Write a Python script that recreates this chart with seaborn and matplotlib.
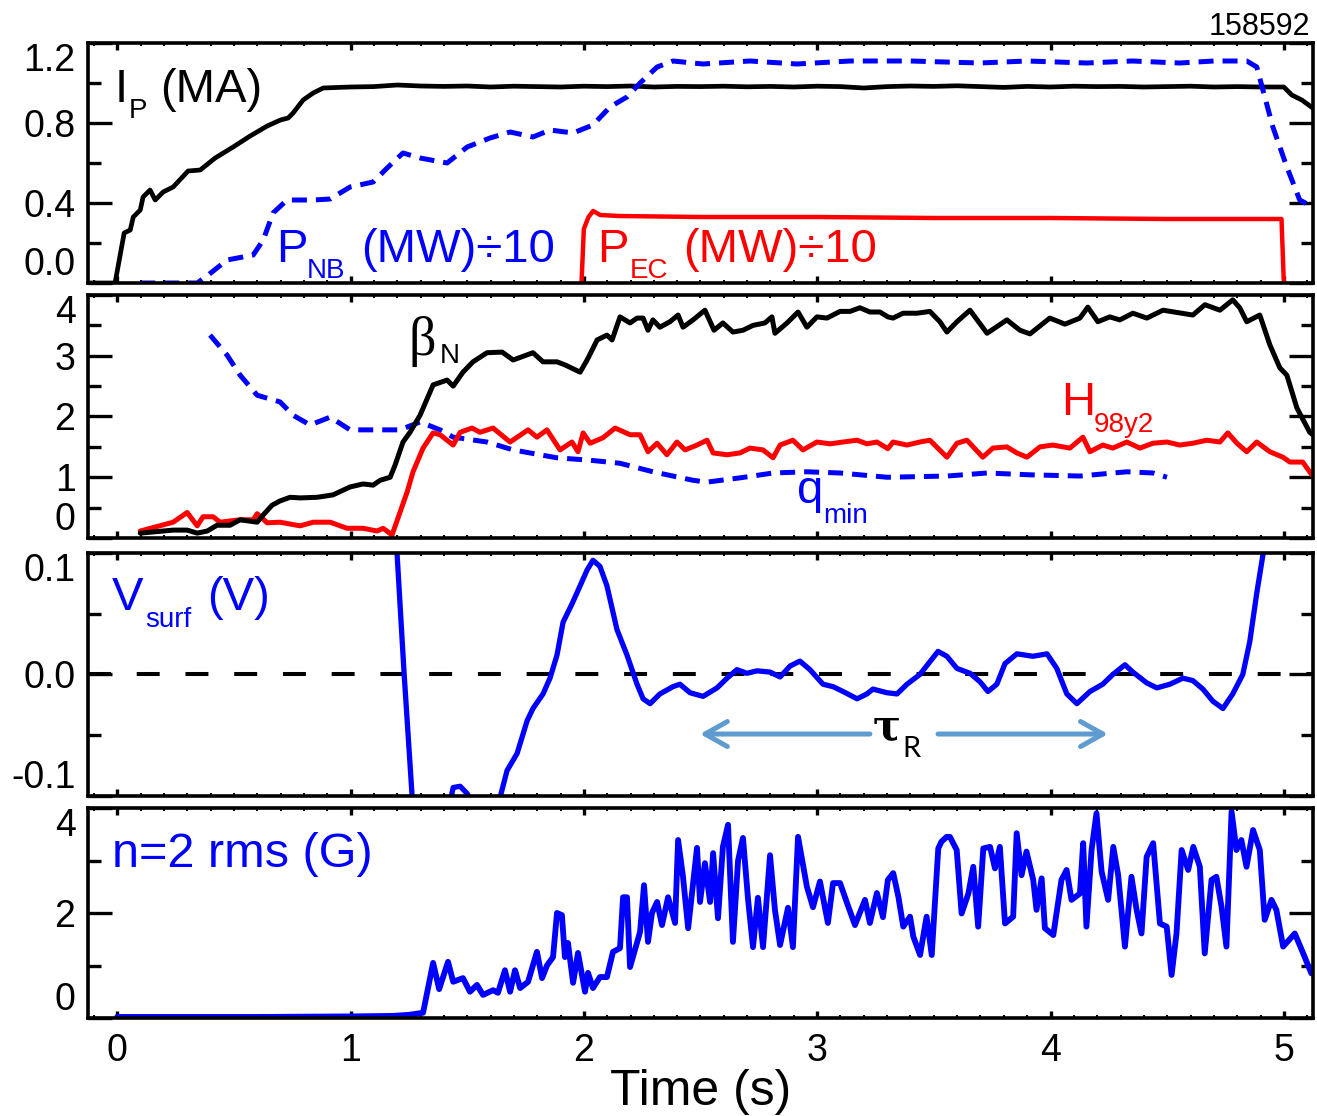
import matplotlib
matplotlib.use("Agg")
import matplotlib.pyplot as plt
from matplotlib.ticker import FixedLocator, MultipleLocator
import seaborn as sns

# ---------------- data (shot 158592) ----------------
# Plasma current (MA)
t_ip = [-0.124, -0.009, 0.030, 0.056, 0.069, 0.099, 0.111, 0.141, 0.163, 0.197, 0.240,
        0.304, 0.356, 0.420, 0.497, 0.570, 0.643, 0.700, 0.733, 0.754, 0.797, 0.840,
        0.883, 0.950,
        1.0, 1.1, 1.2, 1.3, 1.4, 1.5, 1.6, 1.7, 1.8, 1.9, 2.0, 2.1, 2.2, 2.3, 2.4, 2.5,
        2.6, 2.7, 2.8, 2.9, 3.0, 3.1, 3.2, 3.3, 3.4, 3.5, 3.6, 3.7, 3.8, 3.9, 4.0, 4.1,
        4.2, 4.3, 4.4, 4.5, 4.6, 4.7, 4.8, 4.9, 5.0, 5.034, 5.077, 5.124]
ip = [0.0, 0.0, 0.25, 0.265, 0.33, 0.365, 0.43, 0.465, 0.415, 0.455, 0.48,
      0.56, 0.565, 0.625, 0.68, 0.735, 0.785, 0.815, 0.825, 0.85, 0.915, 0.95,
      0.975, 0.978,
      0.980, 0.982, 0.990, 0.985, 0.983, 0.985, 0.980, 0.984, 0.982, 0.980, 0.984, 0.982,
      0.985, 0.980, 0.983, 0.982, 0.984, 0.981, 0.983, 0.980, 0.984, 0.982, 0.975, 0.982,
      0.985, 0.983, 0.986, 0.982, 0.978, 0.983, 0.980, 0.984, 0.982, 0.983, 0.980, 0.982,
      0.984, 0.980, 0.982, 0.980, 0.980, 0.940, 0.915, 0.875]

# Neutral beam power (MW/10)
t_pnb = [0.099, 0.343, 0.390, 0.471, 0.583, 0.626, 0.668, 0.728, 0.840, 0.913, 0.998,
         1.097, 1.157, 1.225, 1.298, 1.414, 1.500, 1.598, 1.684, 1.782, 1.855, 1.954,
         2.039, 2.112, 2.185, 2.241, 2.314, 2.382, 2.511, 2.712, 2.913, 3.141, 3.400,
         3.697, 3.900, 4.156, 4.350, 4.554, 4.700, 4.841, 4.884, 4.953, 5.013, 5.068, 5.124]
pnb = [0.0, 0.0, 0.04, 0.115, 0.14, 0.215, 0.35, 0.415, 0.415, 0.42, 0.48,
       0.505, 0.575, 0.65, 0.625, 0.60, 0.68, 0.725, 0.755, 0.73, 0.765, 0.75,
       0.79, 0.88, 0.93, 1.00, 1.08, 1.11, 1.095, 1.11, 1.095, 1.11, 1.11,
       1.10, 1.11, 1.10, 1.11, 1.10, 1.11, 1.11, 1.08, 0.78, 0.58, 0.415, 0.38]

# Electron cyclotron power (MW/10)
t_pec = [1.990, 2.000, 2.020, 2.040, 2.070, 2.150, 2.500, 3.000, 3.500, 4.000, 4.500,
         4.970, 4.990, 5.000]
pec = [0.0, 0.27, 0.33, 0.36, 0.34, 0.335, 0.33, 0.33, 0.325, 0.325, 0.32,
       0.32, 0.32, 0.0]

# Normalized beta
t_beta = [0.099, 0.240, 0.300, 0.343, 0.386, 0.428, 0.484, 0.527, 0.600, 0.626, 0.664,
          0.698, 0.741, 0.784, 0.857, 0.925, 0.998, 1.054, 1.097, 1.127, 1.170, 1.191,
          1.225, 1.255, 1.298, 1.354, 1.384, 1.414, 1.440, 1.482, 1.525, 1.585, 1.650,
          1.697, 1.782, 1.825, 1.885, 1.919, 1.984, 2.014, 2.057, 2.099, 2.121, 2.155,
          2.198, 2.228, 2.254, 2.275, 2.296, 2.326, 2.369, 2.404, 2.425, 2.468, 2.519,
          2.558, 2.596, 2.639, 2.682, 2.725, 2.776, 2.806, 2.819, 2.871, 2.918, 2.956,
          2.999, 3.042, 3.098, 3.141, 3.183, 3.226, 3.269, 3.303, 3.325, 3.368, 3.428,
          3.483, 3.526, 3.556, 3.599, 3.655, 3.728, 3.813, 3.869, 3.912, 3.997, 4.062,
          4.126, 4.160, 4.203, 4.254, 4.297, 4.353, 4.413, 4.482, 4.610, 4.662, 4.726,
          4.781, 4.811, 4.841, 4.897, 4.940, 4.983, 5.013, 5.056, 5.111, 5.124]
beta = [0.08, 0.13, 0.13, 0.08, 0.115, 0.21, 0.21, 0.30, 0.26, 0.38, 0.54,
        0.61, 0.67, 0.66, 0.67, 0.71, 0.84, 0.89, 0.87, 0.95, 1.00, 1.20,
        1.58, 1.74, 2.02, 2.52, 2.56, 2.60, 2.50, 2.73, 2.90, 3.05, 3.06,
        2.93, 3.05, 2.90, 2.90, 2.85, 2.73, 2.93, 3.26, 3.34, 3.26, 3.64,
        3.54, 3.62, 3.62, 3.42, 3.59, 3.47, 3.56, 3.67, 3.47, 3.59, 3.75,
        3.42, 3.54, 3.39, 3.42, 3.50, 3.54, 3.64, 3.37, 3.54, 3.72, 3.47,
        3.64, 3.62, 3.73, 3.73, 3.79, 3.72, 3.72, 3.64, 3.62, 3.70, 3.70,
        3.73, 3.56, 3.39, 3.56, 3.75, 3.37, 3.59, 3.42, 3.36, 3.62, 3.52,
        3.62, 3.80, 3.56, 3.64, 3.59, 3.70, 3.62, 3.75, 3.67, 3.84, 3.75,
        3.92, 3.79, 3.56, 3.67, 3.18, 2.80, 2.68, 2.14, 1.74, 1.70]

# Confinement factor H98y2
t_h98 = [0.099, 0.240, 0.300, 0.343, 0.368, 0.411, 0.441, 0.527, 0.583, 0.600, 0.643,
         0.698, 0.741, 0.784, 0.840, 0.913, 0.985, 1.054, 1.114, 1.140, 1.178, 1.243,
         1.268, 1.311, 1.354, 1.384, 1.440, 1.470, 1.521, 1.555, 1.611, 1.684, 1.761,
         1.799, 1.842, 1.898, 1.949, 1.975, 1.997, 2.027, 2.082, 2.134, 2.198, 2.241,
         2.275, 2.314, 2.356, 2.399, 2.434, 2.485, 2.528, 2.554, 2.614, 2.669, 2.712,
         2.768, 2.811, 2.841, 2.896, 2.939, 2.999, 3.055, 3.111, 3.171, 3.213, 3.256,
         3.303, 3.325, 3.385, 3.440, 3.483, 3.556, 3.599, 3.642, 3.710, 3.753, 3.813,
         3.856, 3.899, 3.955, 4.010, 4.083, 4.139, 4.169, 4.224, 4.267, 4.327, 4.383,
         4.439, 4.499, 4.554, 4.610, 4.670, 4.726, 4.760, 4.799, 4.841, 4.884, 4.940,
         4.996, 5.026, 5.081, 5.120]
h98 = [0.115, 0.26, 0.42, 0.20, 0.35, 0.35, 0.26, 0.30, 0.30, 0.40, 0.25,
       0.26, 0.23, 0.20, 0.26, 0.26, 0.16, 0.16, 0.115, 0.16, 0.05, 0.76,
       1.09, 1.48, 1.73, 1.70, 1.53, 1.74, 1.81, 1.74, 1.81, 1.58, 1.78,
       1.66, 1.78, 1.45, 1.58, 1.42, 1.73, 1.56, 1.65, 1.81, 1.70, 1.70,
       1.42, 1.56, 1.37, 1.58, 1.45, 1.53, 1.61, 1.40, 1.37, 1.40, 1.48,
       1.45, 1.32, 1.53, 1.61, 1.45, 1.58, 1.55, 1.58, 1.61, 1.55, 1.58,
       1.47, 1.58, 1.53, 1.58, 1.61, 1.33, 1.56, 1.61, 1.33, 1.48, 1.50,
       1.40, 1.33, 1.50, 1.53, 1.48, 1.66, 1.42, 1.53, 1.48, 1.58, 1.48,
       1.56, 1.58, 1.53, 1.56, 1.61, 1.58, 1.73, 1.56, 1.42, 1.58, 1.42,
       1.33, 1.25, 1.25, 1.04]

# Minimum safety factor
t_qmin = [0.398, 0.471, 0.527, 0.600, 0.698, 0.754, 0.827, 0.913, 0.998, 1.212, 1.298,
          1.384, 1.440, 1.585, 1.697, 1.885, 2.027, 2.155, 2.296, 2.468, 2.528, 2.669,
          2.811, 2.956, 3.098, 3.299, 3.556, 3.728, 3.912, 4.126, 4.327, 4.439, 4.499]
qmin = [3.34, 3.01, 2.68, 2.35, 2.24, 2.02, 1.86, 1.99, 1.78, 1.78, 1.91,
        1.78, 1.66, 1.58, 1.45, 1.32, 1.28, 1.23, 1.09, 0.95, 0.92, 0.99,
        1.07, 1.09, 1.07, 1.00, 1.02, 1.07, 1.04, 1.02, 1.09, 1.07, 1.00]

# Surface loop voltage (V)
t_vs = [1.150, 1.200, 1.230, 1.264, 1.300, 1.360, 1.400, 1.440, 1.470, 1.500, 1.530,
        1.580, 1.640, 1.671, 1.714, 1.757, 1.782, 1.825, 1.855, 1.885, 1.911, 1.949,
        1.984, 2.014, 2.039, 2.069, 2.099, 2.142, 2.185, 2.228, 2.254, 2.284, 2.326,
        2.382, 2.412, 2.455, 2.511, 2.571, 2.614, 2.656, 2.699, 2.742, 2.798, 2.841,
        2.884, 2.926, 2.969, 3.025, 3.068, 3.111, 3.171, 3.213, 3.239, 3.299, 3.342,
        3.385, 3.440, 3.518, 3.556, 3.599, 3.655, 3.698, 3.732, 3.770, 3.805, 3.856,
        3.925, 3.985, 4.027, 4.070, 4.113, 4.169, 4.224, 4.267, 4.319, 4.353, 4.413,
        4.456, 4.512, 4.567, 4.610, 4.653, 4.696, 4.739, 4.781, 4.824, 4.854, 4.884,
        4.910, 4.940]
vsurf = [0.25, 0.098, 0.0, -0.100, -0.20, -0.20, -0.13, -0.093, -0.092, -0.098, -0.110,
         -0.115, -0.102, -0.079, -0.065, -0.038, -0.028, -0.016, -0.003, 0.016, 0.043, 0.058,
         0.073, 0.086, 0.094, 0.089, 0.073, 0.037, 0.016, -0.008, -0.020, -0.024, -0.016,
         -0.010, -0.008, -0.015, -0.018, -0.011, -0.003, 0.004, 0.001, 0.003, 0.002, -0.002,
         0.007, 0.011, 0.004, -0.008, -0.010, -0.014, -0.020, -0.016, -0.012, -0.015, -0.016,
         -0.008, 0.0, 0.019, 0.015, 0.005, 0.001, -0.006, -0.014, -0.008, 0.009, 0.017,
         0.015, 0.017, 0.005, -0.016, -0.024, -0.014, -0.008, 0.0, 0.008, 0.002, -0.007,
         -0.011, -0.008, -0.003, -0.005, -0.012, -0.022, -0.028, -0.016, 0.0, 0.027, 0.067,
         0.098, 0.140]

# n=2 rms magnetic fluctuation amplitude (G)
t_n2 = [0.000, 0.600, 1.000, 1.180, 1.250, 1.311, 1.354, 1.380, 1.418, 1.440, 1.482,
        1.512, 1.542, 1.568, 1.611, 1.632, 1.662, 1.684, 1.705, 1.727, 1.761, 1.799,
        1.821, 1.842, 1.868, 1.885, 1.906, 1.919, 1.932, 1.954, 1.975, 2.005, 2.018,
        2.039, 2.069, 2.099, 2.125, 2.155, 2.168, 2.185, 2.198, 2.219, 2.241, 2.258,
        2.275, 2.292, 2.314, 2.335, 2.361, 2.391, 2.404, 2.425, 2.447, 2.485, 2.498,
        2.519, 2.541, 2.554, 2.575, 2.596, 2.618, 2.639, 2.661, 2.682, 2.704, 2.725,
        2.746, 2.768, 2.798, 2.819, 2.841, 2.875, 2.896, 2.918, 2.956, 2.982, 3.012,
        3.046, 3.068, 3.098, 3.128, 3.162, 3.205, 3.226, 3.256, 3.282, 3.303, 3.326,
        3.348, 3.369, 3.398, 3.412, 3.441, 3.469, 3.491, 3.519, 3.533, 3.555, 3.569,
        3.598, 3.619, 3.648, 3.669, 3.690, 3.712, 3.741, 3.762, 3.783, 3.805, 3.840,
        3.855, 3.876, 3.897, 3.926, 3.940, 3.962, 3.976, 4.012, 4.047, 4.069, 4.090,
        4.126, 4.140, 4.154, 4.176, 4.197, 4.219, 4.247, 4.269, 4.290, 4.319, 4.347,
        4.369, 4.390, 4.412, 4.440, 4.469, 4.498, 4.519, 4.540, 4.562, 4.590, 4.612,
        4.640, 4.661, 4.690, 4.711, 4.733, 4.754, 4.776, 4.797, 4.818, 4.840, 4.868,
        4.897, 4.918, 4.947, 4.968, 4.997, 5.047, 5.083, 5.118]
n2rms = [0.02, 0.02, 0.03, 0.04, 0.06, 0.10, 1.05, 0.55, 1.07, 0.69, 0.76,
         0.50, 0.63, 0.44, 0.53, 0.48, 0.91, 0.50, 0.91, 0.57, 0.69, 1.26,
         0.76, 1.00, 1.16, 2.00, 1.96, 1.16, 1.43, 0.67, 1.24, 0.50, 0.86,
         0.57, 0.78, 0.78, 1.26, 1.33, 2.30, 2.30, 0.97, 1.30, 1.64, 2.53,
         1.45, 2.00, 2.21, 1.77, 2.30, 1.81, 3.39, 2.69, 1.71, 3.24, 2.21,
         2.95, 2.21, 3.14, 1.90, 3.26, 3.68, 1.45, 3.00, 3.43, 2.25, 1.35,
         2.29, 1.35, 3.10, 2.06, 1.39, 2.10, 1.35, 3.45, 2.50, 2.11, 2.60,
         1.81, 2.57, 2.57, 2.19, 1.77, 2.25, 1.81, 2.38, 1.92, 2.63, 2.76,
         2.31, 1.74, 1.93, 1.55, 1.20, 1.93, 1.20, 3.23, 3.36, 3.45, 3.45,
         3.20, 1.99, 2.37, 2.88, 1.74, 3.23, 3.26, 2.85, 3.26, 1.80, 1.93,
         3.52, 2.72, 3.17, 2.63, 2.06, 2.66, 1.71, 1.58, 2.63, 2.82, 2.25,
         2.37, 3.33, 1.74, 3.20, 3.90, 2.79, 2.25, 3.26, 2.72, 1.36, 2.69,
         2.06, 1.61, 3.07, 3.33, 1.80, 1.74, 0.82, 1.61, 3.20, 2.82, 3.26,
         2.88, 1.23, 2.63, 2.69, 2.12, 1.36, 3.93, 3.20, 3.39, 2.88, 3.58,
         3.20, 1.87, 2.25, 2.06, 1.36, 1.61, 1.23, 0.85]

# axis tick values / labels
yt1, yl1 = [0.0, 0.4, 0.8, 1.2], ["0.0", "0.4", "0.8", "1.2"]
yt2, yl2 = [0, 1, 2, 3, 4], ["0", "1", "2", "3", "4"]
yt3, yl3 = [-0.1, 0.0, 0.1], ["-0.1", "0.0", "0.1"]
yt4, yl4 = [0, 2, 4], ["0", "2", "4"]
xt = [0, 1, 2, 3, 4, 5]

# ---------------- style ----------------
sns.set_style("ticks")
plt.rcParams["font.family"] = ["Liberation Sans", "DejaVu Sans"]
plt.rcParams.update({"axes.edgecolor": "black", "xtick.color": "black",
                     "ytick.color": "black", "text.color": "black",
                     "axes.labelcolor": "black"})

BLUE, RED, BLACK = "#0000ff", "#ff0000", "#000000"
W_PX, H_PX = 1317, 1116
TICK_FS = 27

fig = plt.figure(figsize=(W_PX / 100, H_PX / 100), dpi=100)


def panel(top, bottom):
    return fig.add_axes([88 / W_PX, 1 - bottom / H_PX, 1225 / W_PX, (bottom - top) / H_PX])


ax1 = panel(43, 283)
ax2 = panel(295, 538)
ax3 = panel(553, 796)
ax4 = panel(808, 1018)


def style(ax, ylim, yt, yl, yminor, show_x=False):
    ax.set_xlim(-0.125, 5.125)
    ax.set_ylim(*ylim)
    ax.set_xticks(xt, [str(v) for v in xt])
    ax.xaxis.set_minor_locator(MultipleLocator(0.1))
    ax.set_yticks(yt, yl)
    ax.yaxis.set_minor_locator(FixedLocator(yminor))
    ax.tick_params(axis="both", which="both", direction="in", top=True, right=True,
                   width=2.4, colors="black")
    ax.tick_params(axis="y", which="major", length=17, labelsize=TICK_FS, pad=9)
    ax.tick_params(axis="y", which="minor", length=9)
    ax.tick_params(axis="x", which="major", length=5, labelsize=TICK_FS, pad=11)
    ax.tick_params(axis="x", which="minor", length=2.2, width=1.5)
    ax.tick_params(axis="x", labelbottom=show_x)
    for s in ax.spines.values():
        s.set_visible(True)
        s.set_linewidth(2.6)
        s.set_color("black")
    ax.set_xlabel("")
    ax.set_ylabel("")
    ticks = ax.yaxis.get_major_ticks()
    ticks[0].label1.set_va("bottom")
    ticks[-1].label1.set_va("top")


dash_long = (3.0, 1.8)

# panel 1: plasma current and heating powers
sns.lineplot(x=t_ip, y=ip, ax=ax1, color=BLACK, linewidth=3.4)
sns.lineplot(x=t_pnb, y=pnb, ax=ax1, color=BLUE, linewidth=3.6, linestyle=(0, dash_long))
sns.lineplot(x=t_pec, y=pec, ax=ax1, color=RED, linewidth=3.2)
style(ax1, (0, 1.2), yt1, yl1, [0.2, 0.6, 1.0])

# panel 2: beta_N, H98y2, q_min
sns.lineplot(x=t_qmin, y=qmin, ax=ax2, color=BLUE, linewidth=3.6, linestyle=(0, dash_long))
sns.lineplot(x=t_h98, y=h98, ax=ax2, color=RED, linewidth=3.6)
sns.lineplot(x=t_beta, y=beta, ax=ax2, color=BLACK, linewidth=3.6)
style(ax2, (0, 4), yt2, yl2, [0.5, 1.5, 2.5, 3.5])

# panel 3: surface loop voltage
ax3.axhline(0.0, color=BLACK, linewidth=2.9, dashes=(5.7, 6.4))
sns.lineplot(x=t_vs, y=vsurf, ax=ax3, color=BLUE, linewidth=3.8)
style(ax3, (-0.1, 0.1), yt3, yl3, [-0.05, 0.05])
arrow_kw = dict(arrowstyle="->,head_length=0.8,head_width=0.45", color="#5e9bd1",
                lw=3.6, shrinkA=0, shrinkB=0, mutation_scale=20)
ax3.annotate("", xy=(2.498, -0.049), xytext=(3.226, -0.049), arrowprops=arrow_kw)
ax3.annotate("", xy=(4.246, -0.049), xytext=(3.518, -0.049), arrowprops=arrow_kw)

# panel 4: n=2 rms amplitude
sns.lineplot(x=t_n2, y=n2rms, ax=ax4, color=BLUE, linewidth=4.2)
style(ax4, (0, 4), yt4, yl4, [1, 3], show_x=True)
ax4.set_xlabel("Time (s)", fontsize=36, labelpad=0)


# ---------------- in-panel labels (pixel positions, baseline) ----------------
def put(x, y, s, size, color=BLACK, family=None, weight="normal"):
    kw = dict(fontsize=size, color=color, ha="left", va="baseline", weight=weight)
    if family is not None:
        kw["family"] = family
    fig.text(x / W_PX, 1 - y / H_PX, s, **kw)


BIG, SUB = 34, 20
put(115, 102, "I", BIG)
put(129, 118, "P", SUB)
put(160, 102, "(MA)", BIG)

put(276, 262, "P", BIG, BLUE)
put(307, 278, "NB", SUB, BLUE)
put(361, 262, "(MW)÷10", BIG, BLUE)

put(597, 262, "P", BIG, RED)
put(630, 278, "EC", SUB, RED)
put(683, 262, "(MW)÷10", BIG, RED)

put(408, 355, "β", 39, BLACK, family=["Liberation Serif", "DejaVu Serif"])
put(440, 363, "N", SUB)

put(1061, 415, "H", BIG, RED)
put(1094, 432, "98y2", SUB, RED)

put(797, 503, "q", BIG, BLUE)
put(823, 523, "min", SUB, BLUE)

put(112, 610, "V", BIG, BLUE)
put(145, 627, "surf", SUB, BLUE)
put(207, 610, "(V)", BIG, BLUE)

put(873, 740, "τ", 30, BLACK, family=["DejaVu Serif"], weight="bold")
put(902, 757, "R", 21, BLACK, family=["Lato", "DejaVu Sans"])

put(112, 867, "n=2 rms (G)", 35, BLUE)

fig.text(1310 / W_PX, 1 - 35 / H_PX, "158592", fontsize=22, ha="right", va="baseline")

fig.savefig("out.png", dpi=100)
